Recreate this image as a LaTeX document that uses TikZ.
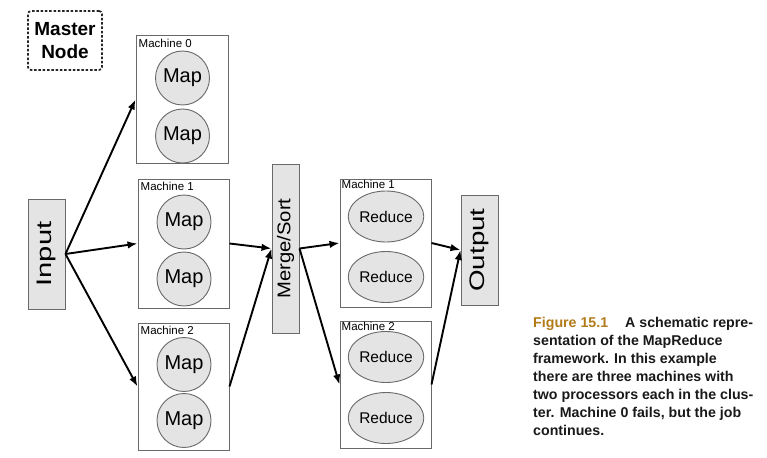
\documentclass[tikz,border=0pt]{standalone}
\usepackage{fontspec}
\setmainfont{Liberation Sans}
\usepackage{graphicx}
\usetikzlibrary{shapes.geometric,arrows.meta}
\definecolor{fillgray}{RGB}{228,228,228}
\definecolor{edgegray}{RGB}{105,105,105}
\definecolor{capgold}{RGB}{178,122,24}
\newcommand{\fsz}[1]{\fontsize{#1}{#1}\selectfont}
\tikzset{
  machine/.style={draw=edgegray, line width=1pt, fill=white, rectangle, inner sep=0pt},
  mapc/.style={circle, draw=edgegray, line width=0.9pt, fill=fillgray, minimum size=54pt, inner sep=0pt, font=\fsz{20}},
  redc/.style={ellipse, draw=edgegray, line width=0.9pt, fill=fillgray, minimum width=72pt, minimum height=51pt, inner sep=0pt, font=\fsz{15.5}},
  bar/.style={draw=edgegray, line width=1pt, fill=fillgray, rectangle, inner sep=0pt},
  mlabel/.style={anchor=north west, inner sep=0pt, font=\fsz{11.5}},
  arr/.style={-{Latex[length=10pt,width=7.5pt]}, line width=1.9pt, black},
  master/.style={draw=black!85, dash pattern=on 2.5pt off 1.8pt, line width=1.7pt, rounded corners=3pt, rectangle, inner sep=0pt, align=center, font=\fsz{19}\bfseries},
  captxt/.style={anchor=north west, inner sep=0pt, align=left, font=\fontsize{14.2}{18}\selectfont\bfseries, text=black!90}
}
\begin{document}
\begin{tikzpicture}[x=1pt,y=-1pt]
\useasboundingbox (0,0) rectangle (767,457);
% master node
\node[master, minimum width=74pt, minimum height=59pt] (master) at (65,40.5) {Master\\[4pt]Node};
% input
\node[bar, minimum width=37pt, minimum height=110pt] (in) at (46.5,254) {\rotatebox{90}{\scalebox{1.39}[1]{\fsz{21}Input}}};
% machines (map)
\node[machine, minimum width=92pt, minimum height=127pt] (m0) at (182,99.5) {};
\node[machine, minimum width=91pt, minimum height=129pt] (m1) at (183.5,243.5) {};
\node[machine, minimum width=91pt, minimum height=127pt] (m2) at (183.5,386.5) {};
\node[mlabel] (m0l) at ([xshift=3pt,yshift=-3pt]m0.north west) {Machine 0};
\node[mlabel] (m1l) at ([xshift=3pt,yshift=-3pt]m1.north west) {Machine 1};
\node[mlabel] (m2l) at ([xshift=3pt,yshift=-3pt]m2.north west) {Machine 2};
\node[mapc] (m0a) at (182.5,78) {Map};
\node[mapc] (m0b) at (182.5,136) {Map};
\node[mapc] (m1a) at (184,222) {Map};
\node[mapc] (m1b) at (184,279) {Map};
\node[mapc] (m2a) at (184,364.5) {Map};
\node[mapc] (m2b) at (184,420.5) {Map};
% merge/sort
\node[bar, minimum width=27pt, minimum height=169pt] (ms) at (285.5,248.5) {\rotatebox{90}{\scalebox{1.1}[1]{\fsz{18.4}Merge/Sort}}};
% machines (reduce)
\node[machine, minimum width=91pt, minimum height=128pt] (r1) at (385.5,243) {};
\node[machine, minimum width=91pt, minimum height=127pt] (r2) at (385.5,384.5) {};
\node[mlabel] (r1l) at ([xshift=2pt,yshift=-1pt]r1.north west) {Machine 1};
\node[mlabel] (r2l) at ([xshift=2pt,yshift=-1pt]r2.north west) {Machine 2};
\node[redc] (r1a) at (386,216.5) {Reduce};
\node[redc] (r1b) at (386,277) {Reduce};
\node[redc] (r2a) at (386,357) {Reduce};
\node[redc] (r2b) at (386,418) {Reduce};
% output
\node[bar, minimum width=37pt, minimum height=110pt] (out) at (479.5,250) {\rotatebox{90}{\scalebox{1.32}[1]{\fsz{21}Output}}};
% arrows
\draw[arr] (in.east) -- (m0.west);
\draw[arr] (in.east) -- (m1.west);
\draw[arr] (in.east) -- (m2.west);
\draw[arr] (m1.east) -- (ms.west);
\draw[arr] (m2.east) -- (ms.west);
\draw[arr] (ms.east) -- (r1.west);
\draw[arr] (ms.east) -- (r2.west);
\draw[arr] (r1.east) -- (out.west);
\draw[arr] (r2.east) -- (out.west);
% caption
\node[captxt] (cap) at (533,317.5)
{\textcolor{capgold}{Figure 15.1}\hspace*{17pt}A schematic repre-\\
sentation of the MapReduce\\
framework. In this example\\
there are three machines with\\
two processors each in the clus-\\
ter. Machine 0 fails, but the job\\
continues.};
\end{tikzpicture}
\end{document}
